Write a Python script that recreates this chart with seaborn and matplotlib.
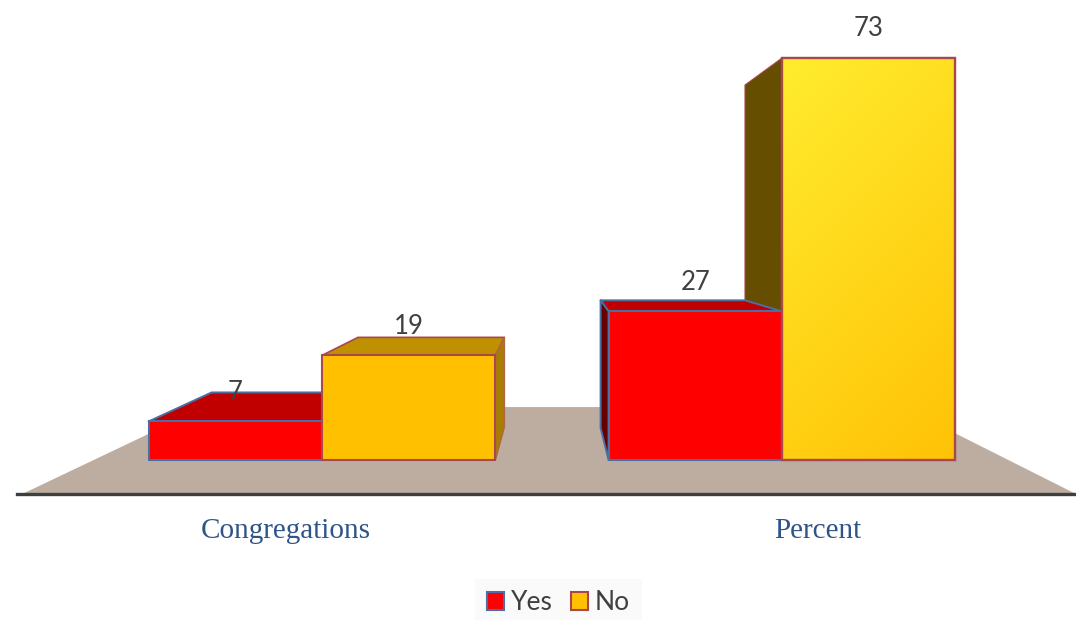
import numpy as np
import pandas as pd
import matplotlib
matplotlib.use("Agg")
import matplotlib.pyplot as plt
from matplotlib.patches import Polygon, Rectangle
import seaborn as sns

categories = ["Congregations", "Percent"]
answers = ["Yes", "No"]
yes_values = [7, 27]
no_values = [19, 73]

FIG_W, FIG_H = 1076, 620
AX_LEFT, AX_BOTTOM = 17, 494          # pixel position of the axes corner
BASE_PX, TOP_VALUE_PX = 460, 58       # pixel row of value 0 and of value 73
CENTER0_PX, CENTER1_PX = 322, 782     # pixel column of the two categories
colors = {"Yes": "#FF0000", "No": "#FFC000"}
edges = {"Yes": "#4A6FA5", "No": "#A8474C"}
top_colors = {"Yes": "#C00000", "No": "#BF9000"}
TEXT_FONT = ["Lato", "DejaVu Sans"]
SERIF_FONT = ["Liberation Serif", "DejaVu Serif"]

sns.set_theme(style="white")
fig = plt.figure(figsize=(FIG_W / 100, FIG_H / 100), dpi=100)
ax = fig.add_axes([AX_LEFT / FIG_W, 1 - AX_BOTTOM / FIG_H, 1 - AX_LEFT / FIG_W, AX_BOTTOM / FIG_H])

df = pd.DataFrame({
    "category": categories * 2,
    "answer": [answers[0]] * 2 + [answers[1]] * 2,
    "value": yes_values + no_values,
})
sns.barplot(data=df, x="category", y="value", hue="answer", hue_order=answers,
            palette=colors, saturation=1, width=0.754, gap=0, legend=False,
            ax=ax, zorder=3)

px_x = CENTER1_PX - CENTER0_PX                    # pixels per category step
px_y = (BASE_PX - TOP_VALUE_PX) / max(no_values)  # pixels per value unit
ax.set_xlim((AX_LEFT - CENTER0_PX) / px_x, (FIG_W - CENTER0_PX) / px_x)
ax.set_ylim((BASE_PX - AX_BOTTOM) / px_y, BASE_PX / px_y)


def corner(bar, side, level, dx=0, dy=0):
    """Point of a bar's front face, moved by dx, dy pixels (dy grows downward)."""
    x = bar.get_x() + (bar.get_width() if side else 0)
    y = bar.get_height() if level else 0
    return (x + dx / px_x, y - dy / px_y)


def face(points, color, edge, z, lw=1.4):
    ax.add_patch(Polygon(points, closed=True, facecolor=color, edgecolor=edge,
                         linewidth=lw, joinstyle="round", zorder=z))


# floor
ax.add_patch(Polygon([(0.005, 0), (0.1775, 0.176), (0.8366, 0.176), (1, 0)],
                     transform=ax.transAxes, facecolor="#BDADA0", edgecolor="none", zorder=1))

yes_bars = list(ax.containers[0])
no_bars = list(ax.containers[1])

for bars, key in ((yes_bars, "Yes"), (no_bars, "No")):
    for b in bars:
        b.set_edgecolor(edges[key])
        b.set_linewidth(1.5)

# Congregations / Yes: top face, seen from well above
b = yes_bars[0]
face([corner(b, 0, 1), corner(b, 0, 1, 63, -29), corner(b, 1, 1, 18, -29), corner(b, 1, 1)],
     top_colors["Yes"], edges["Yes"], 2.5)

# Congregations / No: top and right faces
b = no_bars[0]
face([corner(b, 0, 1), corner(b, 0, 1, 36, -18), corner(b, 1, 1, 9, -18), corner(b, 1, 1)],
     top_colors["No"], edges["No"], 2.6, lw=1.2)
face([corner(b, 1, 1), corner(b, 1, 1, 9, -18), corner(b, 1, 0, 9, -33), corner(b, 1, 0)],
     "#A87E00", "#B0654A", 2.6, lw=1.0)

# Percent / No: left face, seen from below the top
b = no_bars[1]
face([corner(b, 0, 1), corner(b, 0, 1, -37, 27), corner(yes_bars[1], 1, 1, -37, -11), corner(yes_bars[1], 1, 1)],
     "#654E00", edges["No"], 2.3, lw=0.8)

# Percent / Yes: top and left faces
b = yes_bars[1]
face([corner(b, 0, 1), corner(b, 0, 1, -8, -11), corner(b, 1, 1, -37, -11), corner(b, 1, 1)],
     top_colors["Yes"], edges["Yes"], 2.6)
face([corner(b, 0, 1), corner(b, 0, 1, -8, -11), corner(b, 0, 0, -8, -32), corner(b, 0, 0)],
     "#660000", edges["Yes"], 2.6)

# gradient fill of the tall bar
b = no_bars[1]
grad = np.linspace(0, 1, 200)[None, :] * 0.3 + np.linspace(0, 1, 200)[:, None] * 0.7
cmap = matplotlib.colors.LinearSegmentedColormap.from_list("g", ["#FFEC2E", "#FFC206"])
xlim, ylim = ax.get_xlim(), ax.get_ylim()
im = ax.imshow(grad, cmap=cmap, aspect="auto", origin="upper", zorder=3.1,
               extent=(b.get_x(), b.get_x() + b.get_width(), 0, b.get_height()))
im.set_clip_path(b)
ax.set_xlim(xlim)
ax.set_ylim(ylim)
ax.add_patch(Rectangle((b.get_x(), 0), b.get_width(), b.get_height(), fill=False,
                       edgecolor=edges["No"], linewidth=1.7, zorder=3.2))

# value labels
for bars in (yes_bars, no_bars):
    for b in bars:
        ax.annotate(f"{b.get_height():g}", (b.get_x() + b.get_width() / 2, b.get_height()),
                    xytext=(0, 29), textcoords="offset pixels", ha="center", va="center",
                    family=TEXT_FONT, fontsize=18.5, color="#404040", zorder=5)

# axis: baseline and category labels, placed outward of the bar groups
ax.set_xlabel("")
ax.set_ylabel("")
ax.set_yticks([])
ax.set_xticks([(285.5 - CENTER0_PX) / px_x, (818 - CENTER0_PX) / px_x], categories)
ax.tick_params(axis="x", length=0, pad=17)
for lab in ax.get_xticklabels():
    lab.set_family(SERIF_FONT)
    lab.set_fontsize(21)
    lab.set_color("#2F5488")
for s in ("top", "left", "right"):
    ax.spines[s].set_visible(False)
ax.spines["bottom"].set_color("#3F3F3F")
ax.spines["bottom"].set_linewidth(2.4)
ax.spines["bottom"].set_zorder(4)
ax.set_facecolor("none")

leg = ax.legend(ax.containers[:2], answers, loc="center", ncol=2,
                bbox_to_anchor=(558.5 / FIG_W, 1 - 603 / FIG_H), bbox_transform=fig.transFigure,
                frameon=True, fancybox=False, facecolor="#FAFAFA", edgecolor="none", framealpha=1,
                prop={"family": TEXT_FONT, "size": 19}, labelcolor="#404040",
                handlelength=0.65, handleheight=0.65, handletextpad=0.25, columnspacing=0.7,
                borderpad=0.45)

fig.savefig("out.png", dpi=100, facecolor="white")
